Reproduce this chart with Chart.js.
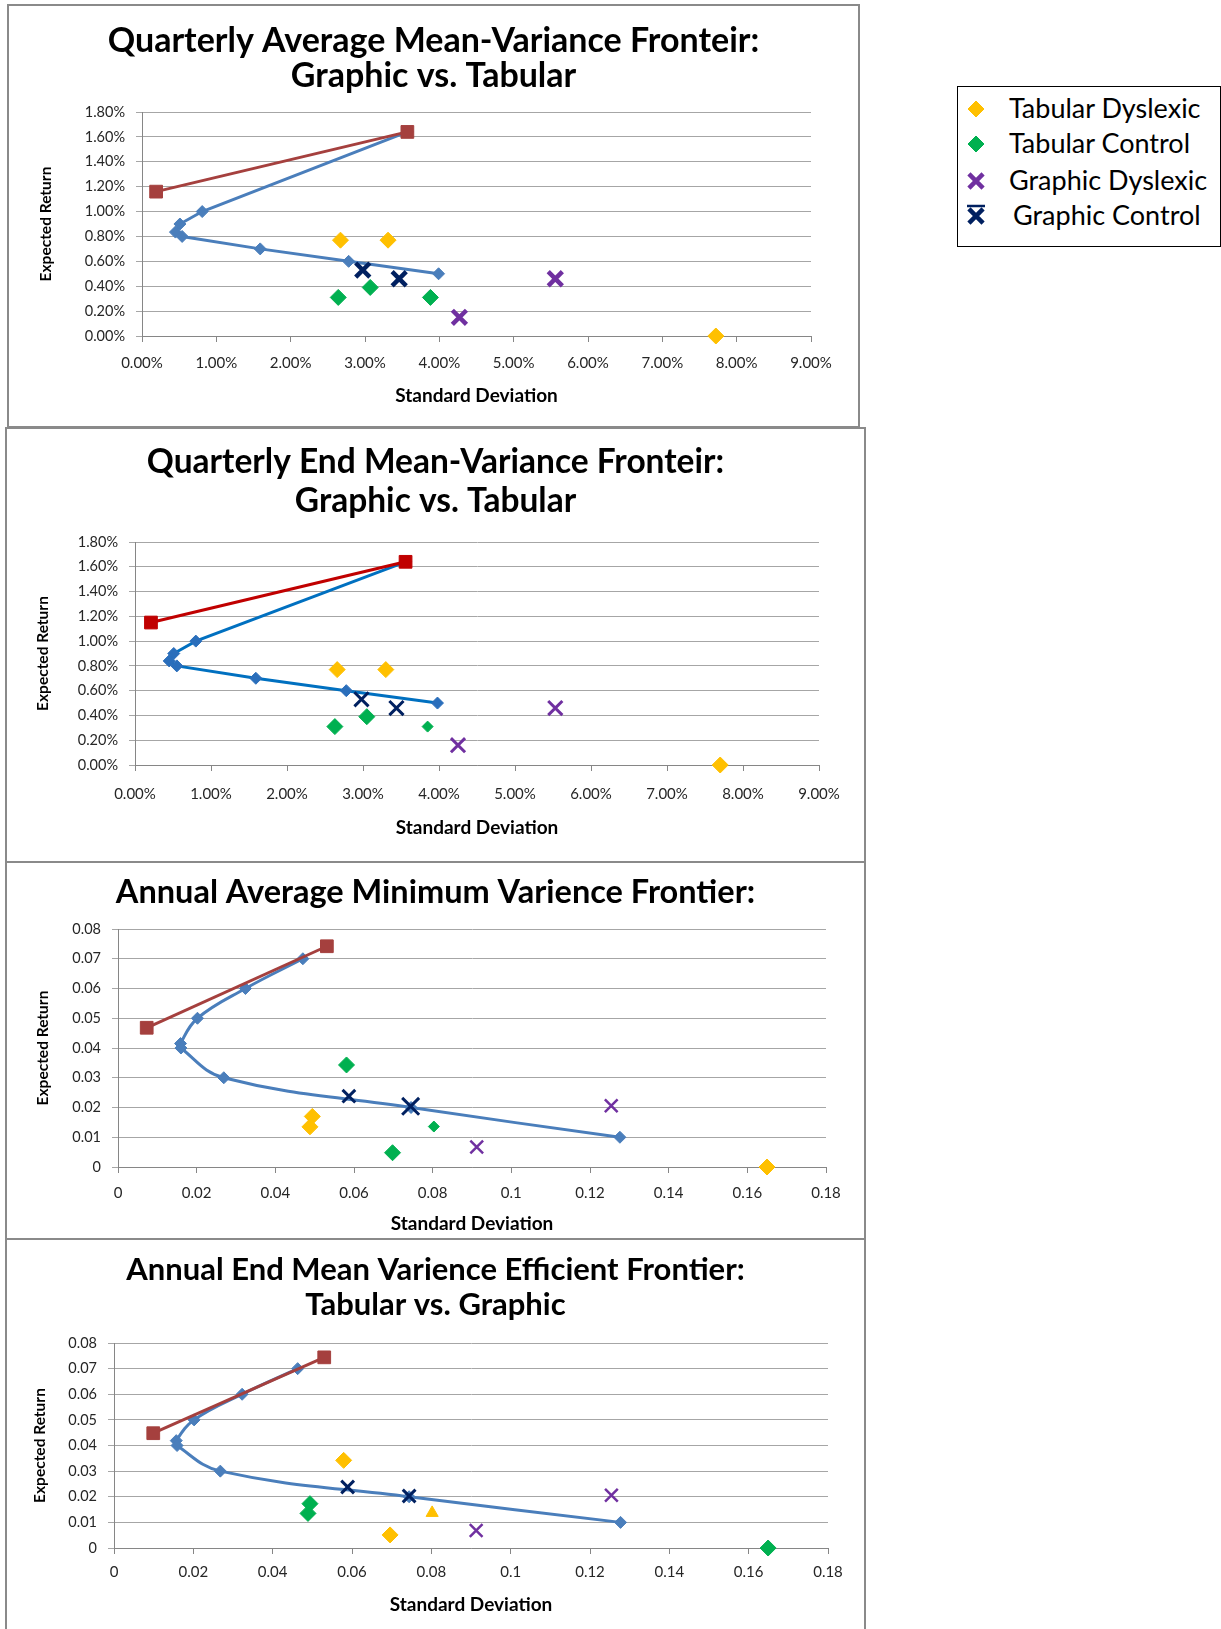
<!DOCTYPE html>
<html>
<head>
<meta charset="utf-8">
<script src="https://cdn.jsdelivr.net/npm/chart.js@4.4.1/dist/chart.umd.min.js"></script>
<style>
  body { margin: 0; background: #fff; width: 1221px; height: 1629px; position: relative; overflow: hidden; font-family: Lato, "Open Sans", sans-serif; }
  canvas { position: absolute; }
  .frame { position: absolute; border: 2px solid #8a8a8a; box-sizing: border-box; pointer-events: none; }
  #legend { position: absolute; left: 957px; top: 86px; width: 264px; height: 161px; border: 1.5px solid #000; box-sizing: border-box; background: #fff; }
  #legend .row { position: absolute; left: 0; height: 30px; line-height: 30px; font-size: 27px; color: #000; white-space: nowrap; }
  #legend canvas { position: absolute; }
</style>
</head>
<body>
<div id="legend"></div>
<script>
const seriesNames = ["Tabular Dyslexic", "Tabular Control", "Graphic Dyslexic", "Graphic Control"];

// Quarterly average (values in %)
const qaFrontierSd = [3.57, 0.81, 0.51, 0.45, 0.54, 1.59, 2.78, 3.99];
const qaFrontierRet = [1.64, 1.00, 0.90, 0.835, 0.80, 0.70, 0.60, 0.50];
const qaTangentSd = [0.19, 3.57];
const qaTangentRet = [1.16, 1.64];
const qaTabDysSd = [2.67, 3.31, 7.72];
const qaTabDysRet = [0.77, 0.77, 0.00];
const qaTabCtlSd = [2.64, 3.07, 3.88];
const qaTabCtlRet = [0.31, 0.39, 0.31];
const qaGraDysSd = [5.56, 4.27];
const qaGraDysRet = [0.46, 0.15];
const qaGraCtlSd = [2.97, 3.46];
const qaGraCtlRet = [0.53, 0.46];

// Quarterly end (values in %)
const qeFrontierSd = [3.56, 0.80, 0.51, 0.45, 0.55, 1.59, 2.78, 3.98];
const qeFrontierRet = [1.64, 1.00, 0.90, 0.84, 0.80, 0.70, 0.60, 0.50];
const qeTangentSd = [0.21, 3.56];
const qeTangentRet = [1.15, 1.64];
const qeTabDysSd = [2.66, 3.30, 7.70];
const qeTabDysRet = [0.77, 0.77, 0.00];
const qeTabCtlSd = [2.63, 3.05, 3.85];
const qeTabCtlRet = [0.31, 0.39, 0.31];
const qeGraDysSd = [5.53, 4.25];
const qeGraDysRet = [0.46, 0.16];
const qeGraCtlSd = [2.98, 3.44];
const qeGraCtlRet = [0.53, 0.46];

// Annual average
const aaFrontierSd = [0.0470, 0.0324, 0.0202, 0.0159, 0.0160, 0.0269, 0.0745, 0.1276];
const aaFrontierRet = [0.070, 0.060, 0.050, 0.0415, 0.040, 0.030, 0.020, 0.010];
const aaTangentSd = [0.0073, 0.0531];
const aaTangentRet = [0.0468, 0.0742];
const aaTabDysSd = [0.0494, 0.0488, 0.1650];
const aaTabDysRet = [0.0170, 0.0135, 0.0];
const aaTabCtlSd = [0.0581, 0.0803, 0.0698];
const aaTabCtlRet = [0.0343, 0.0136, 0.0048];
const aaGraDysSd = [0.1254, 0.0912];
const aaGraDysRet = [0.0206, 0.0067];
const aaGraCtlSd = [0.0587, 0.0744];
const aaGraCtlRet = [0.0238, 0.0204];

// Annual end
const aeFrontierSd = [0.0463, 0.0323, 0.0202, 0.0157, 0.0159, 0.0268, 0.0744, 0.1277];
const aeFrontierRet = [0.070, 0.060, 0.050, 0.0419, 0.040, 0.030, 0.020, 0.010];
const aeTangentSd = [0.0099, 0.0530];
const aeTangentRet = [0.0448, 0.0744];
const aeTabDysSd = [0.0579, 0.0696, 0.0802];
const aeTabDysRet = [0.0342, 0.0051, 0.0137];
const aeTabCtlSd = [0.0494, 0.0489, 0.1649];
const aeTabCtlRet = [0.0173, 0.0135, 0.0];
const aeGraDysSd = [0.1254, 0.0913];
const aeGraDysRet = [0.0206, 0.0068];
const aeGraCtlSd = [0.0589, 0.0744];
const aeGraCtlRet = [0.0238, 0.0203];

const yellow = "#FFC000", green = "#00B050", purple = "#7030A0", navy = "#002060";

Chart.defaults.font.family = 'Lato, "Open Sans", sans-serif';
Chart.defaults.color = "#262626";

const pts = (xs, ys) => xs.map((x, i) => ({ x, y: ys[i] }));
const pct = (v) => v.toFixed(2) + "%";
const dec = (v) => String(+v.toFixed(4));

function marker(label, data, color, style, r, bw) {
  return {
    label, data, clip: false,
    pointStyle: style, pointRadius: r,
    pointBackgroundColor: color, pointBorderColor: color,
    pointBorderWidth: bw == null ? 1 : bw,
    backgroundColor: color, borderColor: color,
  };
}

function makeChart(panel, plot, spec, datasets) {
  const cv = document.createElement("canvas");
  cv.width = panel.w;
  cv.height = panel.h;
  Object.assign(cv.style, { left: panel.x + "px", top: panel.y + "px", width: panel.w + "px", height: panel.h + "px" });
  document.body.appendChild(cv);
  const fr = document.createElement("div");
  fr.className = "frame";
  Object.assign(fr.style, { left: panel.x + "px", top: panel.y + "px", width: panel.w + "px", height: panel.h + "px" });
  document.body.appendChild(fr);

  const tl = spec.titleGap;
  const titleTop = spec.t1 - panel.y - tl / 2;
  const titleBottom = plot.top - panel.y - titleTop - spec.title.length * tl;
  const tickLen = 6;
  const xAxisH = panel.y + panel.h - plot.bottom;
  const yAxisW = plot.left - panel.x;
  const rightGap = panel.x + panel.w - plot.right;

  new Chart(cv, {
    type: "scatter",
    data: { datasets },
    options: {
      responsive: false,
      animation: false,
      layout: { padding: 0 },
      plugins: {
        legend: { display: false },
        tooltip: { enabled: false },
        title: {
          display: true, text: spec.title, color: "#000",
          font: { size: spec.titleSize, weight: "bold", lineHeight: tl / spec.titleSize },
          padding: { top: titleTop, bottom: titleBottom },
        },
      },
      scales: {
        x: {
          type: "linear", min: spec.xMin, max: spec.xMax,
          ticks: { stepSize: spec.xStep, callback: spec.fmt, autoSkip: false, maxRotation: 0,
                   font: { size: 15 }, padding: spec.xLabelY - plot.bottom - tickLen - 9 },
          grid: { drawOnChartArea: false, tickLength: tickLen, color: "#868686" },
          border: { color: "#868686" },
          title: { display: true, text: "Standard Deviation", color: "#000",
                   font: { size: 19, weight: "bold" },
                   padding: { top: 0, bottom: panel.y + panel.h - spec.xTitleY - 11.4 } },
          afterFit: (s) => { s.height = xAxisH; },
        },
        y: {
          type: "linear", min: spec.yMin, max: spec.yMax,
          ticks: { stepSize: spec.yStep, callback: spec.fmt, font: { size: 14.5 }, padding: 11 },
          grid: { color: "#a6a6a6", tickLength: tickLen },
          border: { color: "#868686" },
          title: { display: true, text: "Expected Return", color: "#000",
                   font: { size: 15.5, weight: "bold" },
                   padding: { top: spec.yTitleX - panel.x - 9.3, bottom: 0 } },
          afterFit: (s) => { s.width = yAxisW; },
        },
        // empty right-hand box so the title stays centred on the whole panel
        pad: {
          type: "linear", position: "right",
          ticks: { display: false }, grid: { display: false }, border: { display: false },
          afterFit: (s) => { s.width = rightGap; },
        },
      },
    },
  });
}

// Chart 1: quarterly average
makeChart(
  { x: 7, y: 4, w: 853, h: 424 },
  { left: 142, right: 811, top: 112, bottom: 336 },
  { title: ["Quarterly Average Mean-Variance Fronteir:", "Graphic vs. Tabular"], titleSize: 34, titleGap: 35, t1: 41.5,
    xMin: 0, xMax: 9, xStep: 1, yMin: 0, yMax: 1.8, yStep: 0.2, fmt: pct, xLabelY: 363, xTitleY: 396, yTitleX: 46 },
  [
    marker(seriesNames[3], pts(qaGraCtlSd, qaGraCtlRet), navy, "crossRot", 10, 4.5),
    marker(seriesNames[2], pts(qaGraDysSd, qaGraDysRet), purple, "crossRot", 10, 4.5),
    marker(seriesNames[1], pts(qaTabCtlSd, qaTabCtlRet), green, "rectRot", 8),
    marker(seriesNames[0], pts(qaTabDysSd, qaTabDysRet), yellow, "rectRot", 8),
    { ...marker("Tangent", pts(qaTangentSd, qaTangentRet), "#A5403E", "rect", 9), showLine: true, borderWidth: 3 },
    { ...marker("Frontier", pts(qaFrontierSd, qaFrontierRet), "#4A7EBB", "rectRot", 6), showLine: true, borderWidth: 3 },
  ]
);

// Chart 2: quarterly end
makeChart(
  { x: 5, y: 427, w: 861, h: 436 },
  { left: 135, right: 819, top: 542, bottom: 765 },
  { title: ["Quarterly End Mean-Variance Fronteir:", "Graphic vs. Tabular"], titleSize: 33.5, titleGap: 39, t1: 462,
    xMin: 0, xMax: 9, xStep: 1, yMin: 0, yMax: 1.8, yStep: 0.2, fmt: pct, xLabelY: 794, xTitleY: 828, yTitleX: 43 },
  [
    marker(seriesNames[3], pts(qeGraCtlSd, qeGraCtlRet), navy, "crossRot", 10, 3),
    marker(seriesNames[2], pts(qeGraDysSd, qeGraDysRet), purple, "crossRot", 10, 3),
    { ...marker(seriesNames[1], pts(qeTabCtlSd, qeTabCtlRet), green, "rectRot", 8), pointRadius: [8, 8, 5.5] },
    marker(seriesNames[0], pts(qeTabDysSd, qeTabDysRet), yellow, "rectRot", 8),
    { ...marker("Tangent", pts(qeTangentSd, qeTangentRet), "#C00000", "rect", 9), showLine: true, borderWidth: 3 },
    { ...marker("Frontier", pts(qeFrontierSd, qeFrontierRet), "#2A6EBB", "rectRot", 6), borderColor: "#0070C0", showLine: true, borderWidth: 3 },
  ]
);

// Chart 3: annual average
makeChart(
  { x: 5, y: 861, w: 861, h: 379 },
  { left: 118, right: 826, top: 929, bottom: 1167 },
  { title: ["Annual Average Minimum Varience Frontier:"], titleSize: 32.5, titleGap: 36, t1: 892.5,
    xMin: 0, xMax: 0.18, xStep: 0.02, yMin: 0, yMax: 0.08, yStep: 0.01, fmt: dec, xLabelY: 1193, xTitleY: 1224, yTitleX: 43 },
  [
    { ...marker(seriesNames[3], pts(aaGraCtlSd, aaGraCtlRet), navy, "crossRot", 9, 3), pointRadius: [9, 12] },
    marker(seriesNames[2], pts(aaGraDysSd, aaGraDysRet), purple, "crossRot", 9, 2.5),
    { ...marker(seriesNames[1], pts(aaTabCtlSd, aaTabCtlRet), green, "rectRot", 8), pointRadius: [8, 5.5, 8] },
    marker(seriesNames[0], pts(aaTabDysSd, aaTabDysRet), yellow, "rectRot", 8),
    { ...marker("Tangent", pts(aaTangentSd, aaTangentRet), "#A5403E", "rect", 9), showLine: true, borderWidth: 3 },
    { ...marker("Frontier", pts(aaFrontierSd, aaFrontierRet), "#4A7EBB", "rectRot", 6), showLine: true, borderWidth: 3, tension: 0.4 },
  ]
);

// Chart 4: annual end
makeChart(
  { x: 5, y: 1238, w: 861, h: 400 },
  { left: 114, right: 828, top: 1343, bottom: 1548 },
  { title: ["Annual End Mean Varience Efficient Frontier:", "Tabular vs. Graphic"], titleSize: 31, titleGap: 35, t1: 1270,
    xMin: 0, xMax: 0.18, xStep: 0.02, yMin: 0, yMax: 0.08, yStep: 0.01, fmt: dec, xLabelY: 1572, xTitleY: 1605, yTitleX: 40 },
  [
    marker(seriesNames[3], pts(aeGraCtlSd, aeGraCtlRet), navy, "crossRot", 9, 3),
    marker(seriesNames[2], pts(aeGraDysSd, aeGraDysRet), purple, "crossRot", 9, 2.5),
    marker(seriesNames[1], pts(aeTabCtlSd, aeTabCtlRet), green, "rectRot", 8),
    { ...marker(seriesNames[0], pts(aeTabDysSd, aeTabDysRet), yellow, "rectRot", 8), pointStyle: ["rectRot", "rectRot", "triangle"], pointRadius: [8, 8, 7] },
    { ...marker("Tangent", pts(aeTangentSd, aeTangentRet), "#A5403E", "rect", 9), showLine: true, borderWidth: 3 },
    { ...marker("Frontier", pts(aeFrontierSd, aeFrontierRet), "#4A7EBB", "rectRot", 6), showLine: true, borderWidth: 3, tension: 0.4 },
  ]
);

// Shared legend box on the right
const legendIcons = [
  { color: yellow, style: "rectRot", r: 8, bw: 1 },
  { color: green, style: "rectRot", r: 8, bw: 1 },
  { color: purple, style: "crossRot", r: 10, bw: 4.5 },
  { color: navy, style: "crossRot", r: 10, bw: 4.5, bar: true },
];
const rowCenters = [21, 56, 93, 128];
const textLeft = [51, 51, 51, 55];
const legend = document.getElementById("legend");
seriesNames.forEach((name, i) => {
  const ic = legendIcons[i];
  const c = document.createElement("canvas");
  c.width = 30; c.height = 30;
  Object.assign(c.style, { left: "3px", top: rowCenters[i] - 15 + "px" });
  legend.appendChild(c);
  const ctx = c.getContext("2d");
  ctx.fillStyle = ic.color;
  ctx.strokeStyle = ic.color;
  ctx.lineWidth = ic.bw;
  if (Chart.helpers && Chart.helpers.drawPoint) {
    Chart.helpers.drawPoint(ctx, { pointStyle: ic.style, radius: ic.r, borderWidth: ic.bw, rotation: 0 }, 15, 16);
  }
  if (ic.bar) {
    ctx.lineWidth = 2.5;
    ctx.beginPath(); ctx.moveTo(6, 6); ctx.lineTo(24, 6); ctx.stroke();
  }
  const row = document.createElement("div");
  row.className = "row";
  row.style.left = textLeft[i] + "px";
  row.style.top = rowCenters[i] - 15 + "px";
  row.textContent = name;
  legend.appendChild(row);
});
</script>
</body>
</html>
